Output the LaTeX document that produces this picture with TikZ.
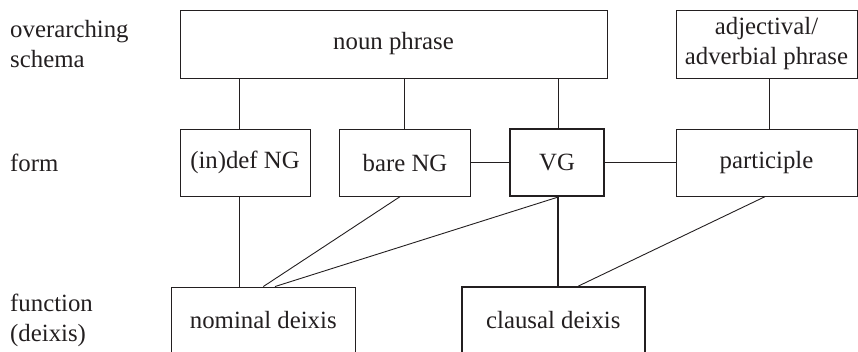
\documentclass[tikz,border=0pt]{standalone}
\usepackage{fontspec}
\setmainfont{Liberation Serif}
\definecolor{ink}{HTML}{231F20}
\begin{document}
\begin{tikzpicture}[x=1pt,y=-1pt,
  every node/.style={font=\fontsize{24.8}{30}\selectfont, text=ink},
  box/.style={draw=ink, line width=0.9pt, rectangle, inner sep=0pt, align=center},
  boldbox/.style={box, line width=1.8pt},
  link/.style={draw=ink, line width=0.9pt},
  boldlink/.style={draw=ink, line width=1.8pt},
  lbl/.style={anchor=west, align=left, inner sep=0pt},
  inlabel/.style={label={[yshift=3pt]center:#1}}]
\useasboundingbox (0,0) rectangle (858,352);
\begin{scope}
\clip (0,0) rectangle (858,352);
% level labels
\node[lbl] (l1) at (10,44) {overarching\\schema};
\node[lbl] (l2) at (10,162.7) {form};
\node[lbl] (l3) at (10,320) {function\\(deixis)};
% schemas
\node[box, minimum width=427, minimum height=68] (np) at (393.5,44) {noun phrase};
\node[box, minimum width=181, minimum height=68] (adj) at (766.5,44) {adjectival/\\adverbial phrase};
% forms
\node[box, minimum width=130, minimum height=67] (indef) at (245,162.7) {(in)def NG};
\node[box, minimum width=131.4, minimum height=67] (bare) at (405,162.7) {bare NG};
\node[boldbox, minimum width=94, minimum height=67] (vg) at (557,162.7) {VG};
\node[box, minimum width=181, minimum height=67] (part) at (766.5,162.7) {participle};
% functions (boxes run past the lower edge)
\node[box, minimum width=183.3, minimum height=72, inlabel={nominal deixis}] (nom) at (263.3,323) {};
\node[boldbox, minimum width=183.3, minimum height=72, inlabel={clausal deixis}] (cla) at (553.3,323) {};
% schema to form
\draw[link] ([xshift=-5.7pt]indef.north) -- ([xshift=-5.7pt]indef.north |- np.south);
\draw[link] ([xshift=-0.7pt]bare.north) -- ([xshift=-0.7pt]bare.north |- np.south);
\draw[link] ([xshift=1.3pt]vg.north) -- ([xshift=1.3pt]vg.north |- np.south);
\draw[link] ([xshift=2.5pt]part.north) -- ([xshift=2.5pt]part.north |- adj.south);
% links among forms
\draw[link] (bare.east) -- (vg.west);
\draw[link] (vg.east) -- (part.west);
% form to function
\draw[link] ([xshift=-5.7pt]indef.south) -- ([xshift=-24pt]nom.north);
\draw[link] ([xshift=-5pt]bare.south) -- ([xshift=0pt]nom.north);
\draw[link] ([xshift=1pt]vg.south) -- ([xshift=11.7pt]nom.north);
\draw[boldlink] ([xshift=1pt]vg.south) -- ([xshift=4.7pt]cla.north);
\draw[link] ([xshift=-1.5pt]part.south) -- ([xshift=25pt]cla.north);
\end{scope}
\end{tikzpicture}
\end{document}
